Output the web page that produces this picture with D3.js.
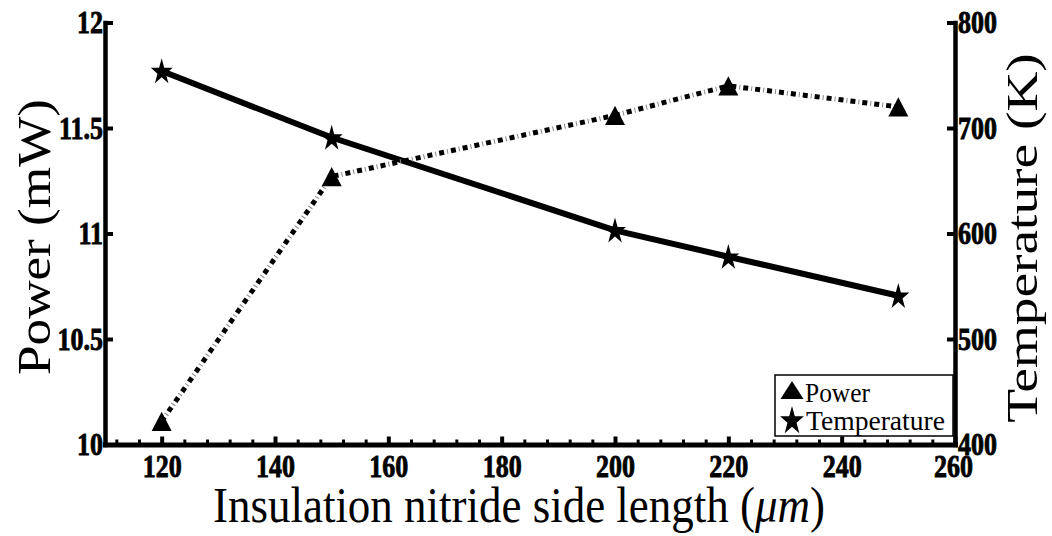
<!DOCTYPE html>
<html>
<head>
<meta charset="utf-8">
<script src="https://cdn.jsdelivr.net/npm/d3@7"></script>
<style>
  html, body { margin: 0; padding: 0; background: #fff; }
  svg { display: block; }
</style>
</head>
<body>
<svg id="chart" width="1052" height="536"></svg>
<script>
// Insulation nitride side length (µm)
const sideLengths = [120, 150, 200, 220, 250];
// Power (mW), left axis
const powerValues = [10.11, 11.27, 11.56, 11.70, 11.60];
// Temperature (K), right axis
const temperatureValues = [754, 691, 603, 578, 541];

const xTickValues = [120, 140, 160, 180, 200, 220, 240, 260];
const leftTickValues = [10, 10.5, 11, 11.5, 12];
const leftTickLabels = ["10", "10.5", "11", "11.5", "12"];
const rightTickValues = [400, 500, 600, 700, 800];
const legendLabels = ["Power", "Temperature"];

const SERIF = "'Liberation Serif', 'Times New Roman', 'DejaVu Serif', serif";
const svg = d3.select("#chart");
const plot = { left: 105, right: 955, top: 22.5, bottom: 444.5 };
const SY = 1.2; // vertical stretch of all lettering and markers

const x = d3.scaleLinear().domain([110, 260]).range([plot.left, plot.right]);
const yL = d3.scaleLinear().domain([10, 12]).range([plot.bottom, plot.top]);
const yR = d3.scaleLinear().domain([400, 800]).range([plot.bottom, plot.top]);

const pts = sideLengths.map((d, i) => ({ x: d, p: powerValues[i], t: temperatureValues[i] }));

// ---- series lines ----
const powerLine = d3.line().x(d => x(d.x)).y(d => yL(d.p));
const tempLine = d3.line().x(d => x(d.x)).y(d => yR(d.t));

svg.append("path").datum(pts).attr("d", tempLine)
  .attr("fill", "none").attr("stroke", "#000").attr("stroke-width", 6)
  .attr("stroke-linejoin", "round");

// dash-dot: black dashes with a thin grey dot between them
svg.append("path").datum(pts).attr("d", powerLine)
  .attr("fill", "none").attr("stroke", "#000").attr("stroke-width", 5)
  .attr("stroke-dasharray", "5 7");
svg.append("path").datum(pts).attr("d", powerLine)
  .attr("fill", "none").attr("stroke", "#888").attr("stroke-width", 5)
  .attr("stroke-dasharray", "1 11").attr("stroke-dashoffset", -8);

// ---- marker shapes ----
function starPath(R) {
  const r = R * 0.382;
  let s = "";
  for (let k = 0; k < 10; k++) {
    const rad = k % 2 === 0 ? R : r;
    const a = -Math.PI / 2 + k * Math.PI / 5;
    s += (k === 0 ? "M" : "L") + (rad * Math.cos(a)).toFixed(2) + "," + (rad * Math.sin(a)).toFixed(2);
  }
  return s + "Z";
}
function trianglePath(w, h) {
  return `M0,${-h / 2}L${w / 2},${h / 2}L${-w / 2},${h / 2}Z`;
}

svg.append("g").selectAll("path").data(pts).join("path")
  .attr("d", trianglePath(20, 16))
  .attr("transform", d => `translate(${x(d.x)},${yL(d.p)}) scale(1,${SY})`)
  .attr("fill", "#000");

svg.append("g").selectAll("path").data(pts).join("path")
  .attr("d", starPath(11.5))
  .attr("transform", d => `translate(${x(d.x)},${yR(d.t) + 1}) scale(1,${SY})`)
  .attr("fill", "#000");

// ---- legend ----
const leg = svg.append("g");
leg.append("rect").attr("x", 775).attr("y", 375).attr("width", 178).attr("height", 61)
  .attr("fill", "#fff").attr("stroke", "#000").attr("stroke-width", 1.5);
leg.append("path").attr("d", trianglePath(23, 15))
  .attr("transform", `translate(792,390) scale(1,${SY})`).attr("fill", "#000");
leg.append("path").attr("d", starPath(12.5))
  .attr("transform", `translate(792,421) scale(1,${SY})`).attr("fill", "#000");
const legendText = [[805, 402, 65], [806, 430, 139]];
legendLabels.forEach((lab, i) => {
  const [tx, ty, tl] = legendText[i];
  leg.append("g").attr("transform", `translate(${tx},${ty}) scale(1,${SY})`)
    .append("text").text(lab)
    .style("font-family", SERIF).style("font-size", "23px")
    .attr("textLength", tl).attr("lengthAdjust", "spacingAndGlyphs");
});

// ---- axes ----
function styleAxis(g, sw) {
  g.attr("font-family", null).attr("font-size", null);
  g.select(".domain").attr("stroke", "#000").attr("stroke-width", sw).attr("stroke-linecap", "square");
  g.selectAll(".tick line").attr("stroke", "#000").attr("stroke-width", 4);
  g.selectAll(".tick text").attr("fill", "#000")
    .attr("stroke", "#000").attr("stroke-width", 0.7)
    .style("font-family", SERIF).style("font-weight", "bold").style("font-size", "26px");
}

// minor ticks on the x axis
const minorX = d3.range(112, 260, 4).filter(v => v % 20 !== 0);
const gxMinor = svg.append("g").attr("transform", `translate(0,${plot.bottom})`)
  .call(d3.axisBottom(x).tickValues(minorX).tickSize(-5).tickSizeOuter(0).tickFormat(""));
gxMinor.select(".domain").remove();
gxMinor.selectAll(".tick line").attr("stroke", "#000").attr("stroke-width", 3);

const gx = svg.append("g").attr("transform", `translate(0,${plot.bottom})`)
  .call(d3.axisBottom(x).tickValues(xTickValues).tickSize(-8).tickSizeOuter(0).tickFormat(d3.format("d")));
styleAxis(gx, 5);
gx.selectAll(".tick text")
  .attr("y", 22 / SY).attr("dy", "0.35em")
  .attr("transform", `scale(1,${SY})`);
gx.selectAll(".tick").filter(d => d === 260).select("text").attr("x", -2);

const gl = svg.append("g").attr("transform", `translate(${plot.left},0)`)
  .call(d3.axisLeft(yL).tickValues(leftTickValues).tickSize(-8).tickSizeOuter(0)
    .tickFormat((d, i) => leftTickLabels[i]));
styleAxis(gl, 4.5);
gl.selectAll(".tick text").attr("x", -2).attr("dy", "0.33em")
  .attr("transform", `scale(1,${SY})`);

const gr = svg.append("g").attr("transform", `translate(${plot.right},0)`)
  .call(d3.axisRight(yR).tickValues(rightTickValues).tickSize(-8).tickSizeOuter(0).tickFormat(d3.format("d")));
styleAxis(gr, 4.5);
gr.selectAll(".tick text").attr("x", 3).attr("dy", "0.33em")
  .attr("transform", `scale(1,${SY})`);

// ---- axis titles ----
const xt = svg.append("g").attr("transform", `translate(519,522) scale(1,${SY})`)
  .append("text").attr("text-anchor", "middle")
  .style("font-family", SERIF).style("font-size", "42px")
  .attr("textLength", 612).attr("lengthAdjust", "spacingAndGlyphs");
xt.append("tspan").text("Insulation nitride side length (");
xt.append("tspan").style("font-style", "italic").text("\u03bcm");
xt.append("tspan").text(")");

svg.append("g").attr("transform", `translate(50,237) scale(1,${SY}) rotate(-90)`)
  .append("text").text("Power (mW)").attr("text-anchor", "middle")
  .style("font-family", SERIF).style("font-size", "47px")
  .attr("textLength", 230).attr("lengthAdjust", "spacingAndGlyphs");

svg.append("g").attr("transform", `translate(1037,238) scale(1,${SY}) rotate(-90)`)
  .append("text").text("Temperature (K)").attr("text-anchor", "middle")
  .style("font-family", SERIF).style("font-size", "45px")
  .attr("textLength", 308).attr("lengthAdjust", "spacingAndGlyphs");
</script>
</body>
</html>
